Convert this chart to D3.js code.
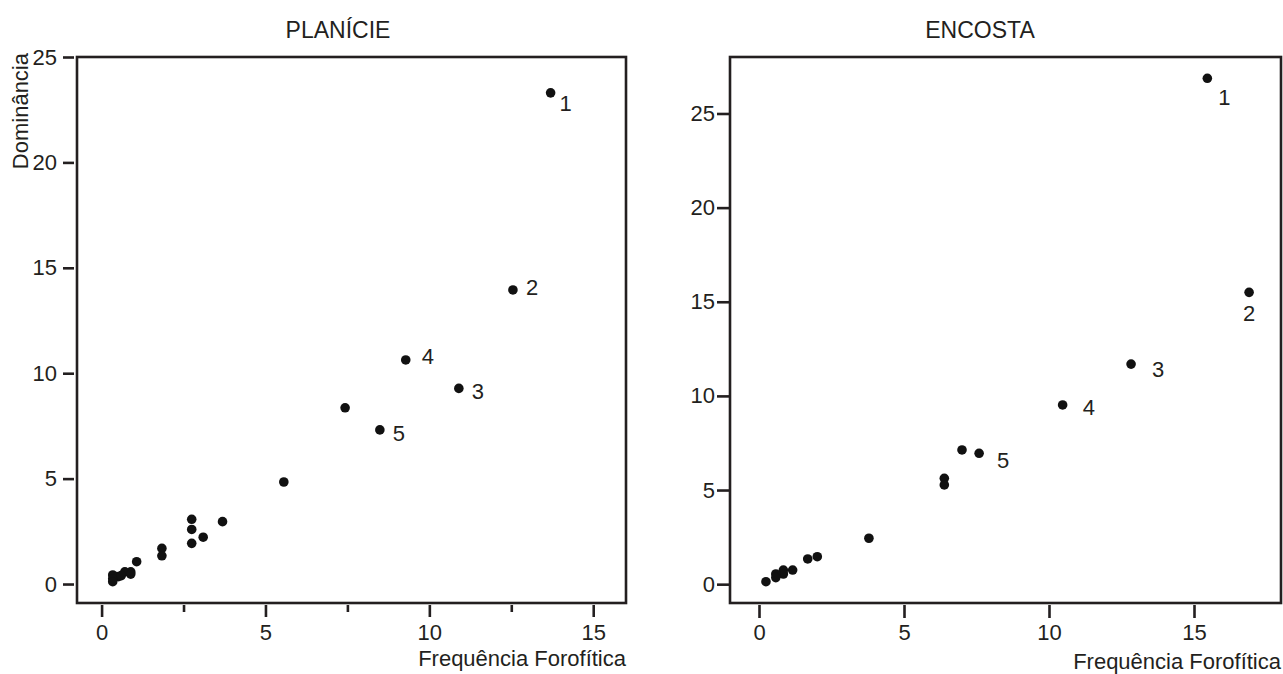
<!DOCTYPE html>
<html lang='pt'>
	<head>
		<meta charset='utf-8'>
		<title>Planície / Encosta</title>
		<script type='text/javascript' src='https://cdn.jsdelivr.net/npm/d3@7/dist/d3.min.js'></script>
		<style>
			body { margin: 0; background: white; }
			svg { display: block; }
			text { font-family: 'Liberation Sans', Arial, sans-serif; fill: #231f20; }
			.frame { fill: none; stroke: #231f20; stroke-width: 2.6px; }
			.axis line { stroke: #231f20; stroke-width: 2.6px; }
			.axis path { display: none; }
			.axis text { font-size: 22px; fill: #231f20; }
			circle.pt { fill: #111; }
		</style>
	</head>
	<body>
		<script type='text/javascript'>
			var width = 1283;
			var height = 674;

			// PLANÍCIE
			var planicieFreq = [13.7, 12.55, 10.9, 9.28, 8.49, 7.43, 5.56, 3.69, 2.75, 2.75, 2.75, 3.10,
				1.84, 1.84, 1.07, 0.89, 0.71, 0.89, 0.51, 0.34, 0.34, 0.34, 0.6];
			var planicieDom = [23.3, 13.95, 9.28, 10.63, 7.31, 8.36, 4.84, 2.96, 3.07, 2.59, 1.93, 2.22,
				1.69, 1.34, 1.06, 0.58, 0.58, 0.47, 0.35, 0.43, 0.25, 0.11, 0.4];
			var planicieRank = ['1', '2', '3', '4', '5'];

			// ENCOSTA
			var encostaFreq = [15.46, 16.9, 12.83, 10.47, 7.59, 7.0, 6.39, 6.39, 3.79, 2.01, 1.68,
				1.16, 0.84, 0.84, 0.58, 0.58, 0.24];
			var encostaDom = [26.87, 15.5, 11.69, 9.52, 6.95, 7.13, 5.62, 5.27, 2.44, 1.46, 1.34,
				0.75, 0.75, 0.54, 0.54, 0.35, 0.13];
			var encostaRank = ['1', '2', '3', '4', '5'];

			var xMajor = [0, 5, 10, 15];
			var xMinor = [2.5, 7.5, 12.5];
			var yTicks = [0, 5, 10, 15, 20, 25];

			var svg = d3.select('body').append('svg')
				.attr('width', width)
				.attr('height', height);

			function panel(o) {
				var x = d3.scaleLinear().domain(o.xDomain).range([o.left, o.right]);
				var y = d3.scaleLinear().domain(o.yDomain).range([o.bottom, o.top]);
				var g = svg.append('g');

				g.append('rect').attr('class', 'frame')
					.attr('x', o.left).attr('y', o.top)
					.attr('width', o.right - o.left).attr('height', o.bottom - o.top);

				g.append('g').attr('class', 'axis')
					.attr('transform', 'translate(' + (o.left - o.yGap) + ',0)')
					.call(d3.axisLeft(y).tickValues(yTicks).tickSize(o.yTick).tickPadding(o.yPad));

				g.append('g').attr('class', 'axis')
					.attr('transform', 'translate(0,' + (o.bottom + 2) + ')')
					.call(d3.axisBottom(x).tickValues(xMajor).tickSize(o.xTick).tickPadding(o.xPad));

				if (o.minor) {
					g.append('g').attr('class', 'axis')
						.attr('transform', 'translate(0,' + (o.bottom + 2) + ')')
						.call(d3.axisBottom(x).tickValues(xMinor).tickSize(7).tickFormat(''));
				}

				g.append('text')
					.attr('x', o.titleX).attr('y', 38)
					.attr('text-anchor', 'middle')
					.style('font-size', '23px')
					.text(o.title);

				g.append('text')
					.attr('x', o.right).attr('y', o.xTitleY)
					.attr('text-anchor', 'end')
					.style('font-size', '22px')
					.text('Frequência Forofítica');

				if (o.yTitle) {
					g.append('text')
						.attr('transform', 'translate(28,53) rotate(-90)')
						.attr('text-anchor', 'end')
						.style('font-size', '22px')
						.text(o.yTitle);
				}

				var pts = o.freq.map(function(d, i) { return [d, o.dom[i]]; });

				g.append('g').selectAll('circle')
					.data(pts)
					.enter().append('circle')
						.attr('class', 'pt')
						.attr('cx', function(d) { return x(d[0]); })
						.attr('cy', function(d) { return y(d[1]); })
						.attr('r', 4.8);

				g.append('g').selectAll('text')
					.data(o.rank)
					.enter().append('text')
						.attr('x', function(d, i) { return x(pts[i][0]) + o.offsets[i][0]; })
						.attr('y', function(d, i) { return y(pts[i][1]) + o.offsets[i][1]; })
						.style('font-size', '22px')
						.text(function(d) { return d; });
			}

			panel({
				title: 'PLANÍCIE', yTitle: 'Dominância', titleX: 338,
				freq: planicieFreq, dom: planicieDom, rank: planicieRank,
				xDomain: [-0.75, 16], yDomain: [-0.9, 25],
				left: 77, right: 626, top: 57, bottom: 603,
				yGap: 3, yTick: 11, yPad: 6, xTick: 12, xPad: 7, minor: true,
				xTitleY: 666,
				offsets: [[9, 18], [13, 5], [13, 11], [16, 4], [13, 11]]
			});

			panel({
				title: 'ENCOSTA', titleX: 980,
				freq: encostaFreq, dom: encostaDom, rank: encostaRank,
				xDomain: [-1, 18], yDomain: [-1, 28],
				left: 730, right: 1281, top: 57, bottom: 603,
				yGap: 0, yTick: 13, yPad: 2, xTick: 13, xPad: 6, minor: false,
				xTitleY: 669,
				offsets: [[11, 27], [-6, 29], [21, 13], [20, 10], [18, 15]]
			});
		</script>
	</body>
</html>
